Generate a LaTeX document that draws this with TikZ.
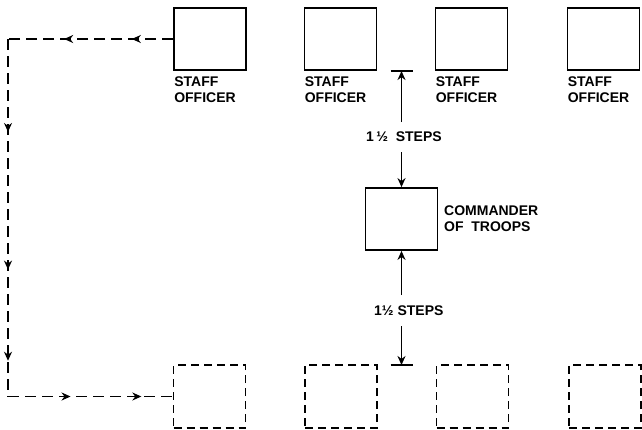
\documentclass[tikz,border=0pt]{standalone}
\usepackage{fontspec}
\setmainfont{Liberation Sans}
\usetikzlibrary{arrows.meta,decorations.markings}
\begin{document}
\begin{tikzpicture}[x=1pt,y=-1pt,
  solidbox/.style={draw,line width=1.8pt,minimum width=72pt,minimum height=62pt,inner sep=0pt},
  dashbox/.style={draw,line width=1.8pt,dash pattern=on 8pt off 5pt,minimum width=72pt,minimum height=63pt,inner sep=0pt},
  lbl/.style={font=\fontsize{14}{16}\selectfont\bfseries,align=left,inner sep=0pt},
  tip/.style={-{Stealth[length=9pt,width=8pt]}},
  dpath/.style={line width=1.7pt,dash pattern=on 11pt off 6pt},
  meas/.style={line width=1.7pt}]
\useasboundingbox (0,0) rectangle (642,429);
% top staff officers
\node[solidbox] (s1) at (210,39) {};
\node[solidbox] (s2) at (340.5,39) {};
\node[solidbox] (s3) at (471.5,39) {};
\node[solidbox] (s4) at (603.5,39) {};
\foreach \n in {s1,s2,s3,s4}
  \node[lbl,anchor=north west] (l\n) at ([shift={(1pt,-6pt)}]\n.south west) {STAFF\\OFFICER};
% bottom dashed boxes
\node[dashbox] (b1) at (209.5,396.5) {};
\node[dashbox] (b2) at (341,396.5) {};
\node[dashbox] (b3) at (472.5,396.5) {};
\node[dashbox] (b4) at (605,396.5) {};
% commander
\node[solidbox] (com) at (401.5,219) {};
\node[lbl,anchor=west] (comt) at (444,219) {COMMANDER\\OF\ \ TROOPS};
% measurement labels
\node[lbl,anchor=west] (t1) at (366,137) {1\,½\ \ STEPS};
\node[lbl,anchor=west] (t2) at (374,311) {1½ STEPS};
% ticks and measuring lines
\coordinate (tk1) at (401.5,71);
\coordinate (tk2) at (401.5,365);
\draw[meas] ([xshift=-11pt]tk1) -- ([xshift=11pt]tk1);
\draw[meas] ([xshift=-11pt]tk2) -- ([xshift=11pt]tk2);
\coordinate (u1) at (401.5,122);
\coordinate (u2) at (401.5,152);
\coordinate (d1) at (401.5,295);
\coordinate (d2) at (401.5,326);
\draw[meas,tip] (u1) -- (tk1);
\draw[meas,tip] (u2) -- (com.north);
\draw[meas,tip] (d1) -- (com.south);
\draw[meas,tip] (d2) -- (tk2);
% left dashed route
\coordinate (c1) at (8,39);
\coordinate (c2) at (8,396.5);
\draw[dpath,postaction={decorate,decoration={markings,
   mark=at position 0.25 with {\arrow{Stealth[length=9pt,width=8pt]}},
   mark=at position 0.66 with {\arrow{Stealth[length=9pt,width=8pt]}}}}]
   (s1.west) -- (c1);
\draw[dpath,postaction={decorate,decoration={markings,
   mark=at position 0.26 with {\arrow{Stealth[length=9pt,width=8pt]}},
   mark=at position 0.645 with {\arrow{Stealth[length=9pt,width=8pt]}},
   mark=at position 0.9 with {\arrow{Stealth[length=9pt,width=8pt]}}}}]
   (c1) -- (c2);
\draw[dpath,postaction={decorate,decoration={markings,
   mark=at position 0.38 with {\arrow{Stealth[length=9pt,width=8pt]}},
   mark=at position 0.81 with {\arrow{Stealth[length=9pt,width=8pt]}}}}]
   (c2) -- (b1.west);
\end{tikzpicture}
\end{document}
